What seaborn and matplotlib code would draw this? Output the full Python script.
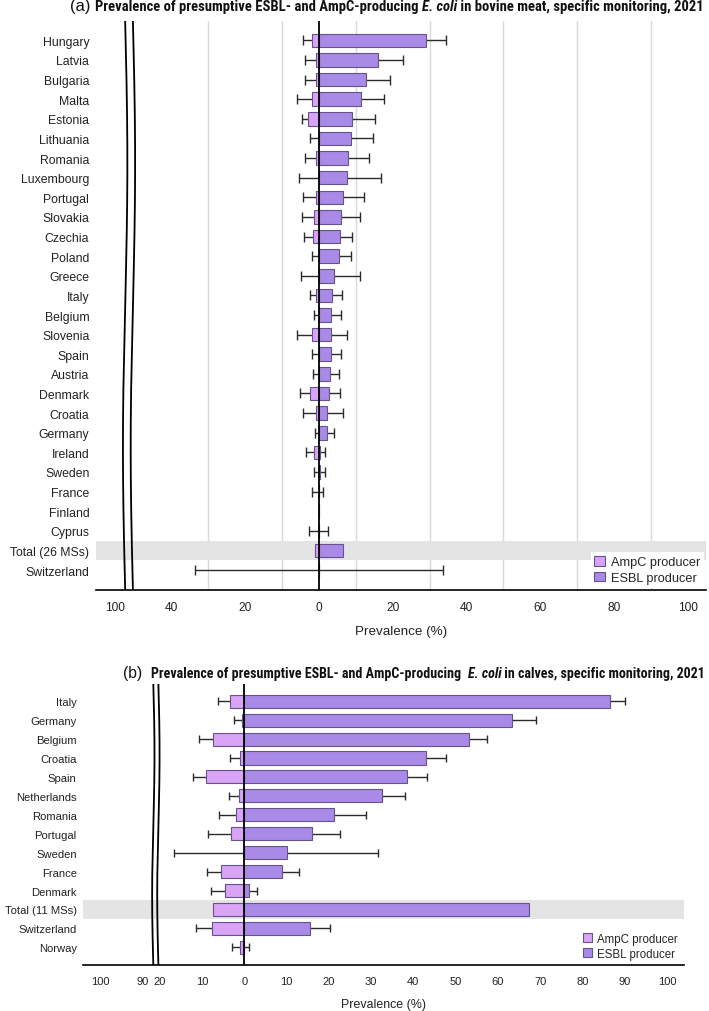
import numpy as np
import matplotlib
matplotlib.use("Agg")
import matplotlib.pyplot as plt
import matplotlib.font_manager as fm
from matplotlib.patches import Patch
import seaborn as sns

# ---------------- data (values in %) ----------------
countries_a = ["Hungary", "Latvia", "Bulgaria", "Malta", "Estonia", "Lithuania",
               "Romania", "Luxembourg", "Portugal", "Slovakia", "Czechia", "Poland",
               "Greece", "Italy", "Belgium", "Slovenia", "Spain", "Austria", "Denmark",
               "Croatia", "Germany", "Ireland", "Sweden", "France", "Finland", "Cyprus",
               "Total (26 MSs)", "Switzerland"]
ampc_a = [2.0, 0.7, 0.7, 2.0, 2.9, 0.0, 0.7, 0.0, 0.8, 1.4, 1.7, 0.0, 0.0, 0.7,
          0.0, 2.0, 0.0, 0.0, 2.4, 0.7, 0.0, 1.3, 0.0, 0.0, 0.0, 0.0, 1.1, 0.0]
esbl_a = [29.1, 16.0, 12.7, 11.3, 8.9, 8.7, 7.9, 7.5, 6.4, 6.0, 5.6, 5.4, 4.0, 3.6,
          3.3, 3.3, 3.3, 2.9, 2.8, 2.3, 2.2, 0.2, 0.3, 0.0, 0.0, 0.0, 6.5, 0.0]
ampc_ci_a = [4.4, 3.8, 3.8, 5.8, 4.7, 2.4, 3.8, 5.4, 4.4, 4.7, 4.0, 1.8, 4.9, 2.4,
             1.3, 5.8, 1.8, 1.6, 5.1, 4.3, 1.1, 3.5, 1.3, 1.8, 0.0, 2.7, 1.3, 33.6]
esbl_ci_a = [34.5, 22.8, 19.2, 17.6, 15.2, 14.6, 13.7, 16.7, 12.2, 11.1, 8.9, 8.6,
             11.2, 6.3, 6.0, 7.5, 6.0, 5.4, 5.6, 6.5, 4.0, 1.7, 1.7, 1.1, 0.0, 2.6,
             7.2, 33.6]

countries_b = ["Italy", "Germany", "Belgium", "Croatia", "Spain", "Netherlands",
               "Romania", "Portugal", "Sweden", "France", "Denmark", "Total (11 MSs)",
               "Switzerland", "Norway"]
ampc_b = [3.3, 0.6, 7.3, 0.9, 9.0, 1.3, 1.9, 3.2, 0.0, 5.5, 4.6, 7.5, 7.6, 0.9]
esbl_b = [86.6, 63.4, 53.2, 43.1, 38.4, 32.6, 21.3, 16.0, 10.0, 8.9, 1.1, 67.3, 15.5, 0.0]
ampc_ci_b = [6.1, 2.4, 10.7, 3.4, 12.2, 3.7, 6.0, 8.5, 16.6, 8.9, 7.8, 8.6, 11.3, 2.8]
esbl_ci_b = [90.1, 69.0, 57.3, 47.8, 43.2, 38.0, 28.9, 22.7, 31.7, 12.9, 3.1, 69.1, 20.3, 1.2]

ticklabels_a = ["100", "40", "20", "0", "20", "40", "60", "80", "100"]
ticklabels_b = ["100", "90", "20", "10", "0", "10", "20", "30", "40", "50", "60",
                "70", "80", "90", "100"]

# ---------------- style ----------------
AMPC = "#d9a3f6"
ESBL = "#a98be7"
EDGE = "#65528f"
GRID = "#d9d9d9"
BAND = "#e4e4e4"

sns.set_style("white")
names = {f.name for f in fm.fontManager.ttflist}
BODY = "Liberation Sans" if "Liberation Sans" in names else "DejaVu Sans"
plt.rcParams["font.family"] = [BODY, "DejaVu Sans"]


def narrow_font(italic):
    # look for a condensed/narrow bold face, otherwise fall back to the body font
    cands = []
    for f in fm.fontManager.ttflist:
        cond = ("Narrow" in f.name or "Condensed" in f.name
                or str(f.stretch) in ("condensed", "semi-condensed", "extra-condensed"))
        bold = f.weight in ("bold", 700, "semibold", 600) or (isinstance(f.weight, int) and f.weight >= 600)
        ital = f.style in ("italic", "oblique")
        if cond and bold and ital == italic:
            cands.append(f)
    pref = ["Liberation Sans Narrow", "Arial Narrow", "Roboto Condensed", "Noto Sans",
            "Open Sans", "DejaVu Sans"]
    cands.sort(key=lambda f: next((i for i, p in enumerate(pref) if f.name.startswith(p)), 99))
    if cands:
        return fm.FontProperties(fname=cands[0].fname)
    return fm.FontProperties(family=BODY, weight="bold", style="italic" if italic else "normal")


TITLE_FP = narrow_font(False)
TITLE_FP_IT = narrow_font(True)

W, H = 709, 1012
fig = plt.figure(figsize=(W / 100, H / 100), dpi=100)


def px_axes(left, top, right, bottom):
    return fig.add_axes([left / W, 1 - bottom / H, (right - left) / W, (bottom - top) / H])


def draw_panel(ax, countries, ampc, esbl, ampc_ci, esbl_ci, total_label,
               ticks, ticklabels, grid, breaks, wave, xlim, ylim,
               fs_lab, fs_tick, fs_xlab, fs_leg, capsize, labelpad_y, xlabelpad, legend_kw):
    n = len(countries)
    amp_neg = [-v for v in ampc]
    # total row highlight
    ti = countries.index(total_label)
    ax.axhspan(ti - 0.5, ti + 0.5, color=BAND, zorder=0, lw=0)

    # whiskers: from -AmpC upper CI to ESBL upper CI
    lo = np.array([-v for v in ampc_ci])
    hi = np.array(esbl_ci)
    centre = (lo + hi) / 2
    half = (hi - lo) / 2
    centre[half == 0] = np.nan
    ax.errorbar(centre, np.arange(n), xerr=half, fmt="none", ecolor="#2b2b2b",
                elinewidth=1.0, capsize=capsize, capthick=1.0, zorder=2)

    sns.barplot(x=esbl, y=countries, orient="h", color=ESBL, saturation=1,
                edgecolor=EDGE, linewidth=0.8, width=0.69, errorbar=None, ax=ax)
    sns.barplot(x=amp_neg, y=countries, orient="h", color=AMPC, saturation=1,
                edgecolor=EDGE, linewidth=0.8, width=0.69, errorbar=None, ax=ax)
    for p in ax.patches:
        p.set_zorder(3)

    ax.axvline(0, color="black", lw=1.3, zorder=4)

    # broken axis marks
    yy = np.linspace(ylim[1], ylim[0], 200)
    for b in breaks:
        xx = b + wave * np.sin(2 * np.pi * (yy - ylim[1]) / (ylim[0] - ylim[1]))
        ax.plot(xx, yy, color="black", lw=1.3, zorder=5, solid_capstyle="butt")

    ax.set_xlim(*xlim)
    ax.set_ylim(*ylim)
    ax.set_xticks(ticks)
    ax.set_xticklabels(ticklabels, fontsize=fs_tick)
    ax.set_xticks(grid, minor=True)
    ax.grid(which="minor", axis="x", color=GRID, lw=1.0, zorder=0.5)
    ax.grid(which="major", visible=False)
    ax.set_axisbelow(True)
    ax.tick_params(axis="x", which="both", length=0, pad=8, colors="#222222")
    ax.tick_params(axis="y", length=0, pad=labelpad_y, labelsize=fs_lab, colors="#222222")
    ax.set_ylabel("")
    ax.set_xlabel("Prevalence (%)", fontsize=fs_xlab, color="#222222", labelpad=xlabelpad)
    for s in ["top", "right", "left"]:
        ax.spines[s].set_visible(False)
    ax.spines["bottom"].set_color("black")
    ax.spines["bottom"].set_linewidth(1.2)
    ax.spines["bottom"].set_zorder(12)

    handles = [Patch(facecolor=AMPC, edgecolor=EDGE, lw=0.8, label="AmpC producer"),
               Patch(facecolor=ESBL, edgecolor=EDGE, lw=0.8, label="ESBL producer")]
    leg = ax.legend(handles=handles, loc="lower right", frameon=True, framealpha=1,
                    fancybox=False, borderaxespad=0.15, fontsize=fs_leg,
                    handlelength=0.8, handleheight=0.8, handletextpad=0.5,
                    labelspacing=0.25, **legend_kw)
    leg.get_frame().set_edgecolor("white")
    leg.get_frame().set_linewidth(0)
    leg.set_zorder(10)


def draw_title(x0, x1, ybase, segments):
    renderer = fig.canvas.get_renderer()

    def place(size):
        arts, x = [], x0
        for txt, kind in segments:
            if kind == "label":
                fp = fm.FontProperties(family=BODY, size=size * 1.12)
            elif kind == "italic":
                fp = TITLE_FP_IT.copy()
                fp.set_size(size)
                if fp.get_file() is None:
                    fp.set_style("italic")
            else:
                fp = TITLE_FP.copy()
                fp.set_size(size)
            t = fig.text(x / W, 1 - ybase / H, txt, fontproperties=fp,
                         ha="left", va="baseline", color="#111111")
            bb = t.get_window_extent(renderer)
            x += bb.width
            arts.append(t)
        return arts, x - x0

    arts, w = place(10)
    for a in arts:
        a.remove()
    place(10 * (x1 - x0) / w)


# ---------------- panel (a) ----------------
ax_a = px_axes(96, 21.7, 706, 590.7)
draw_panel(ax_a, countries_a, ampc_a, esbl_a, ampc_ci_a, esbl_ci_a, "Total (26 MSs)",
           ticks=[-55.2, -40, -20, 0, 20, 40, 60, 80, 100], ticklabels=ticklabels_a,
           grid=[-55.2, -40, -30, -20, -10] + list(range(10, 101, 10)),
           breaks=[-52.5, -50.4], wave=0.6, xlim=(-60.4, 104.9), ylim=(28.0, -1.0),
           fs_lab=8.8, fs_tick=8.6, fs_xlab=9.6, fs_leg=9.2, capsize=3.6, labelpad_y=4.8,
           xlabelpad=9, legend_kw=dict(borderpad=0.3))

draw_title(70, 706, 11.2, [("(a) ", "label"),
                           ("Prevalence of presumptive ESBL- and AmpC-producing ", "bold"),
                           ("E. coli", "italic"),
                           (" in bovine meat, specific monitoring, 2021", "bold")])

# ---------------- panel (b) ----------------
ax_b = px_axes(82.7, 685, 684, 966.3)
draw_panel(ax_b, countries_b, ampc_b, esbl_b, ampc_ci_b, esbl_ci_b, "Total (11 MSs)",
           ticks=[-34, -24, -20, -10, 0, 10, 20, 30, 40, 50, 60, 70, 80, 90, 100],
           ticklabels=ticklabels_b,
           grid=[-34, -24, -10] + list(range(10, 101, 10)),
           breaks=[-21.5, -20.3], wave=0.28, xlim=(-38.2, 104.0), ylim=(13.95, -0.91),
           fs_lab=8.1, fs_tick=8.0, fs_xlab=8.9, fs_leg=8.3, capsize=3.0, labelpad_y=4.3,
           xlabelpad=8, legend_kw=dict(borderpad=0.35))

draw_title(123.3, 704, 678.5, [("(b)  ", "label"),
                               ("Prevalence of presumptive ESBL- and AmpC-producing  ", "bold"),
                               ("E. coli", "italic"),
                               (" in calves, specific monitoring, 2021", "bold")])

fig.savefig("out.png", dpi=100)
